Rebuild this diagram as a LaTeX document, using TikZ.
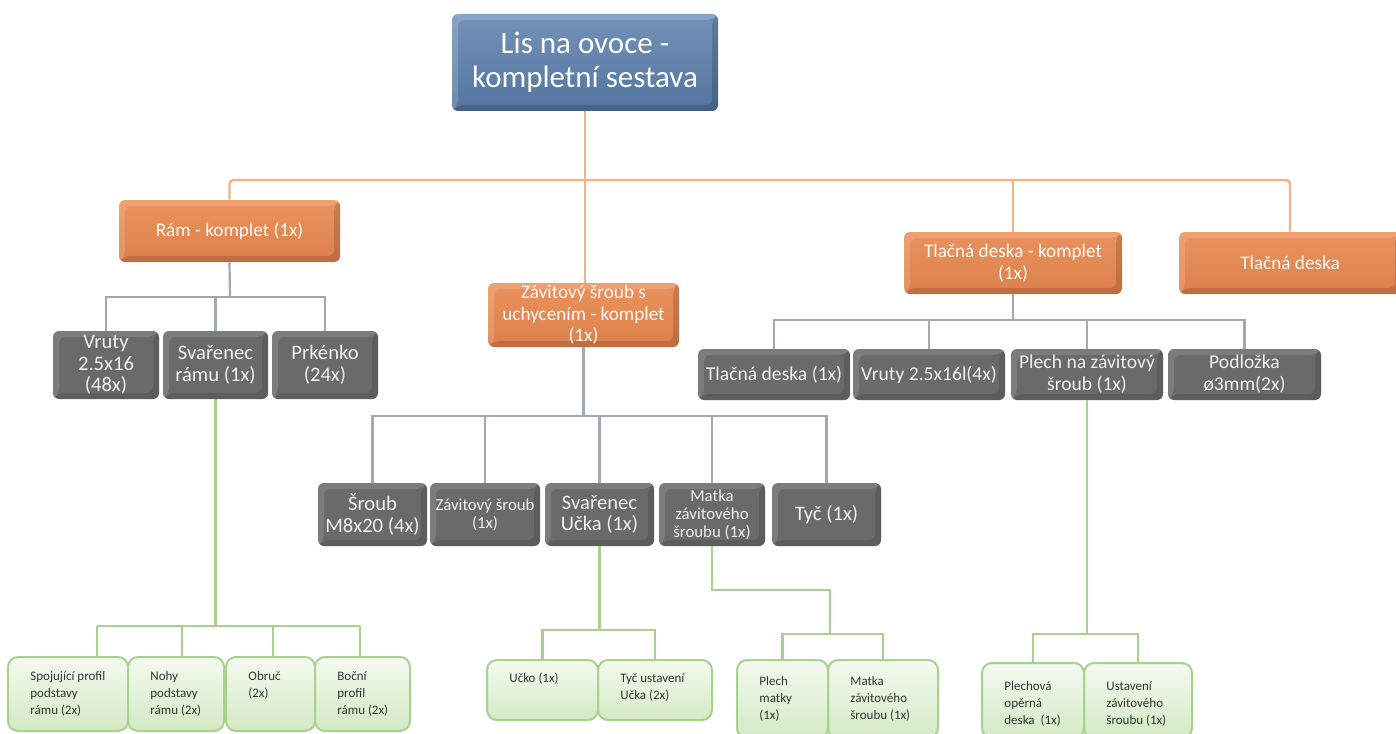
\documentclass[tikz,border=0pt]{standalone}
\usepackage{fontspec}
\setmainfont{Carlito}
\definecolor{cblue}{HTML}{5A7FAD}
\definecolor{corange}{HTML}{E8884F}
\definecolor{cgray}{HTML}{6A6A6A}
\definecolor{lorange}{HTML}{F4B183}
\definecolor{lgray}{HTML}{A3A6B6}
\definecolor{lgreen}{HTML}{A9D18E}
\definecolor{gtop}{HTML}{F4FAF0}
\definecolor{gbot}{HTML}{D3E9C4}
\newcommand\mybox[7]{%
  \pgfmathsetmacro\bw{(#5-#3)*0.5}\pgfmathsetmacro\bh{(#6-#4)*0.5}%
  \node[#1, minimum width=\bw pt, minimum height=\bh pt] (#2) at ({(#3+#5)/2},{(#4+#6)/2}) {#7};}
\newcommand\mygbox[7]{%
  \pgfmathsetmacro\bw{(#4-#2)*0.5}\pgfmathsetmacro\bh{(#5-#3)*0.5}%
  \node[gnbox, minimum width=\bw pt, minimum height=\bh pt] (#1) at ({(#2+#4)/2},{(#3+#5)/2}) {};
  \node[gntext] (#1t) at ({#2+22},{#3+#6}) {#7};}
\begin{document}
\begin{tikzpicture}[x=0.5pt,y=-0.5pt,
  bevelfx/.style={path picture={
    \fill[white,opacity=#1] (path picture bounding box.south west) -- (path picture bounding box.north west) -- (path picture bounding box.north east) -- ([shift={(-6,6)}]path picture bounding box.north east) -- ([shift={(6,6)}]path picture bounding box.north west) -- ([shift={(6,-6)}]path picture bounding box.south west) -- cycle;
    \fill[black,opacity=#1] (path picture bounding box.south west) -- (path picture bounding box.south east) -- (path picture bounding box.north east) -- ([shift={(-6,6)}]path picture bounding box.north east) -- ([shift={(-6,-6)}]path picture bounding box.south east) -- ([shift={(6,-6)}]path picture bounding box.south west) -- cycle;}},
  boxbase/.style={rounded corners=3pt, inner sep=0pt, align=center},
  bluebox/.style={boxbase, top color=cblue!85!white, bottom color=cblue!92!black, text=white, font=\fontsize{15.5}{17}\selectfont, bevelfx=0.16},
  orbox/.style={boxbase, top color=corange!92!white, bottom color=corange!95!black, text=white!96!orange, font=\fontsize{9.6}{10.8}\selectfont, bevelfx=0.14},
  grbox/.style={boxbase, fill=cgray, text=white!94!black, font=\fontsize{10.3}{10.8}\selectfont, bevelfx=0.12},
  grmid/.style={grbox, font=\fontsize{9.8}{11}\selectfont},
  grsmall/.style={grbox, font=\fontsize{8.4}{9}\selectfont},
  gnbox/.style={rounded corners=5pt, draw=lgreen, line width=1pt, top color=gtop, bottom color=gbot, inner sep=0pt},
  gntext/.style={anchor=north west, inner sep=0pt, align=left, text=black!80, font=\fontsize{6.5}{8.5}\selectfont},
  oline/.style={draw=lorange, line width=1.2pt, rounded corners=2pt},
  gline/.style={draw=lgray, line width=1.1pt},
  nline/.style={draw=lgreen, line width=1.1pt}]
\fill[white] (0,0) rectangle (1396,733);
\useasboundingbox (0,0) rectangle (1396,733);
\coordinate (obus) at (585,180);
\coordinate (rbus) at (230,297);
\coordinate (zbus) at (585,416);
\coordinate (tbus) at (1013,320);
\coordinate (gA) at (97,626);
\coordinate (gB) at (182,626);
\coordinate (gC) at (273,626);
\coordinate (gD) at (360,626);
\coordinate (ubus) at (600,630);
\coordinate (mk) at (830,590);
\coordinate (mbus) at (830,634);
\coordinate (pbus) at (1085,634);
% boxes
\mybox{bluebox}{top}{452}{14}{718}{111}{Lis na ovoce -\\kompletní sestava}
\mybox{orbox}{ram}{119}{200}{340}{262}{Rám - komplet (1x)}
\mybox{orbox}{zav}{488}{283}{679}{347}{Závitový šroub s\\uchycením - komplet\\(1x)}
\mybox{orbox}{tk}{904}{232}{1122}{294}{Tlačná deska - komplet\\(1x)}
\mybox{orbox}{td}{1179}{232}{1401}{294}{Tlačná deska}
\mybox{grbox}{vr}{53}{331}{159}{399}{Vruty\\2.5x16\\(48x)}
\mybox{grbox}{sv}{163}{331}{268}{399}{Svařenec\\rámu (1x)}
\mybox{grbox}{pr}{272}{331}{378}{399}{Prkénko\\(24x)}
\mybox{grbox}{sr}{318}{483}{427}{546}{Šroub\\M8x20 (4x)}
\mybox{grsmall}{zs}{430}{483}{540}{546}{Závitový šroub\\(1x)}
\mybox{grbox}{su}{545}{483}{654}{546}{Svařenec\\Učka (1x)}
\mybox{grsmall}{mt}{659}{483}{765}{546}{Matka\\závitového\\šroubu (1x)}
\mybox{grbox}{ty}{772}{483}{881}{546}{Tyč (1x)}
\mybox{grmid}{t1}{698}{349}{850}{400}{Tlačná deska (1x)}
\mybox{grmid}{t2}{853}{349}{1005}{400}{Vruty 2.5x16l(4x)}
\mybox{grmid}{t3}{1011}{349}{1163}{400}{Plech na závitový\\šroub (1x)}
\mybox{grmid}{t4}{1168}{349}{1321}{400}{Podložka\\ø3mm(2x)}
% connectors
\draw[oline] (top.south) -- (obus);
\draw[oline] (ram.north) |- (obus) -| (td.north);
\draw[oline] (obus) -- (obus |- zav.north);
\draw[oline] (tk.north) -- (tk.north |- obus);
\draw[gline] (ram.south) -- (rbus);
\draw[gline] (vr.north) |- (rbus) -| (pr.north);
\draw[gline] (sv.north) -- (sv.north |- rbus);
\draw[gline] (zav.south) -- (zav.south |- zbus);
\draw[gline] (sr.north) |- (zbus) -| (ty.north);
\draw[gline] (zs.north) -- (zs.north |- zbus);
\draw[gline] (su.north) -- (su.north |- zbus);
\draw[gline] (mt.north) -- (mt.north |- zbus);
\draw[gline] (tk.south) -- (tk.south |- tbus);
\draw[gline] (t1.north) |- (tbus) -| (t4.north);
\draw[gline] (t2.north) -- (t2.north |- tbus);
\draw[gline] (t3.north) -- (t3.north |- tbus);
% green boxes
\mygbox{sp}{8}{657}{128}{731}{14}{Spojující profil\\podstavy\\rámu (2x)}
\mygbox{nh}{128}{657}{224}{731}{14}{Nohy\\podstavy\\rámu (2x)}
\mygbox{ob}{226}{657}{315}{731}{14}{Obruč\\(2x)}
\mygbox{bo}{315}{657}{410}{731}{14}{Boční\\profil\\rámu (2x)}
\mygbox{uk}{487}{660}{598}{720}{13}{Učko (1x)}
\mygbox{tu}{598}{660}{712}{720}{13}{Tyč ustavení\\Učka (2x)}
\mygbox{pm}{737}{660}{828}{738}{16}{Plech\\matky\\(1x)}
\mygbox{mz}{828}{660}{938}{738}{16}{Matka\\závitového\\šroubu (1x)}
\mygbox{po}{982}{663}{1084}{738}{18}{Plechová\\opěrná\\deska\ \ (1x)}
\mygbox{us}{1084}{663}{1192}{738}{18}{Ustavení\\závitového\\šroubu (1x)}
\draw[nline] (sv.south) -- (sv.south |- gA);
\draw[nline] (gA) -- (gD);
\draw[nline] (gA) -- (gA |- sp.north);
\draw[nline] (gB) -- (gB |- nh.north);
\draw[nline] (gC) -- (gC |- ob.north);
\draw[nline] (gD) -- (gD |- bo.north);
\draw[nline] (su.south) -- (su.south |- ubus);
\draw[nline] (uk.north) |- (ubus) -| (tu.north);
\draw[nline] (mt.south) |- (mk) -- (mbus);
\draw[nline] (pm.north) |- (mbus) -| (mz.north);
\draw[nline] (t3.south) -- (t3.south |- pbus);
\draw[nline] (po.north) |- (pbus) -| (us.north);
\end{tikzpicture}
\end{document}
